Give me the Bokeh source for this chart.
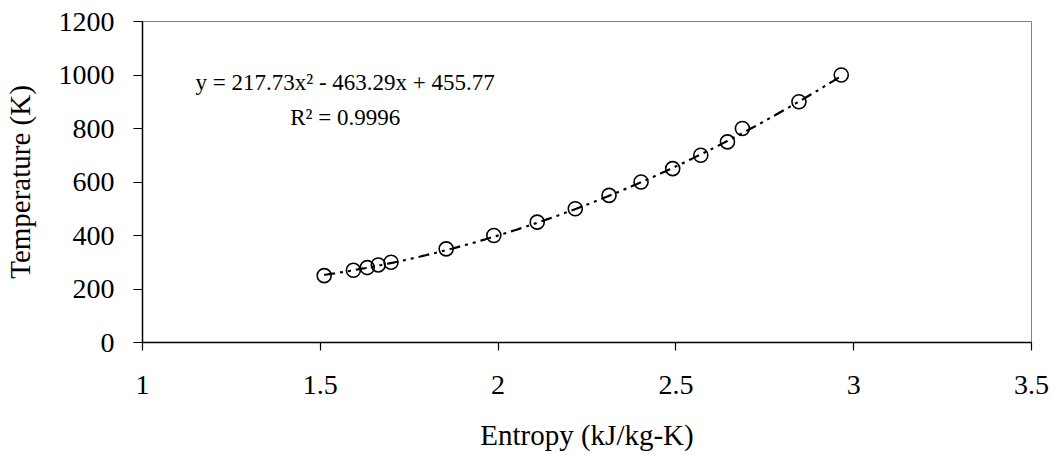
import numpy as np
from bokeh.plotting import figure
from bokeh.models import Range1d, Label, FixedTicker
from bokeh.embed import file_html
from bokeh.resources import INLINE

# Data
entropy = [1.511, 1.593, 1.632, 1.663, 1.699, 1.854, 1.988, 2.110, 2.217,
           2.312, 2.402, 2.491, 2.570, 2.645, 2.687, 2.846, 2.965]
temperature = [250, 270, 280, 290, 300, 350, 400, 450, 500,
               550, 600, 650, 700, 750, 800, 900, 1000]

# Trendline coefficients shown on the chart
coef_a, coef_b, coef_c = 217.73, -463.29, 455.77
r_squared = 0.9996

x_ticks = [1, 1.5, 2, 2.5, 3, 3.5]
y_ticks = [0, 200, 400, 600, 800, 1000, 1200]

FONT = "Liberation Serif"

p = figure(width=1052, height=455, output_backend="svg", toolbar_location=None,
           x_range=Range1d(1, 3.5), y_range=Range1d(0, 1200),
           min_border_left=141, min_border_right=21, min_border_top=21,
           min_border_bottom=113)
p.xgrid.visible = False
p.ygrid.visible = False
p.outline_line_color = "#808080"
p.outline_line_width = 1
p.background_fill_color = "white"
p.border_fill_color = "white"

# trendline
xs = np.linspace(min(entropy), max(entropy), 200)
ys = coef_a * xs**2 + coef_b * xs + coef_c
p.line(xs, ys, line_color="black", line_width=2.2, line_dash="11 5 3 5 3 5")

p.scatter(entropy, temperature, marker="circle", size=14, line_color="black",
          line_width=1.6, fill_alpha=0)

for ax in (p.xaxis[0], p.yaxis[0]):
    ax.axis_line_color = "black"
    ax.axis_line_width = 1.5
    ax.major_tick_line_color = "black"
    ax.major_tick_line_width = 1.2
    ax.minor_tick_line_color = None
    ax.major_tick_in = 0
    ax.major_label_text_font = FONT
    ax.major_label_text_font_size = "28px"
    ax.major_label_text_color = "black"
    ax.axis_label_text_font = FONT
    ax.axis_label_text_font_size = "29px"
    ax.axis_label_text_font_style = "normal"
    ax.axis_label_text_color = "black"

p.xaxis.ticker = FixedTicker(ticks=x_ticks)
p.yaxis.ticker = FixedTicker(ticks=y_ticks)
p.xaxis.major_tick_out = 8
p.yaxis.major_tick_out = 9
p.xaxis.major_label_standoff = 25
p.yaxis.major_label_standoff = 19
p.xaxis.axis_label = "Entropy (kJ/kg-K)"
p.yaxis.axis_label = "Temperature (K)"
p.xaxis.axis_label_standoff = 22
p.yaxis.axis_label_standoff = 20

eq_text = "y = %.2fx\u00b2 - %.2fx + %.2f" % (coef_a, -coef_b, coef_c)
r_text = "R\u00b2 = %.4f" % r_squared
p.add_layout(Label(x=1.570, y=972, text=eq_text, text_align="center",
                   text_baseline="alphabetic", text_font=FONT,
                   text_font_size="23px", text_color="black"))
p.add_layout(Label(x=1.570, y=841, text=r_text, text_align="center",
                   text_baseline="alphabetic", text_font=FONT,
                   text_font_size="23px", text_color="black"))

open("out.html", "w").write(file_html(p, INLINE))
